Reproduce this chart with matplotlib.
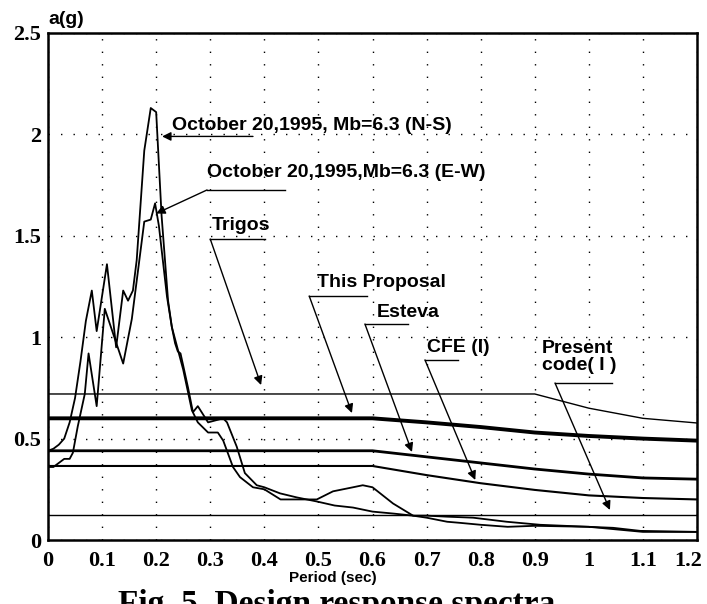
import matplotlib
matplotlib.use("Agg")
import matplotlib.pyplot as plt
from matplotlib.transforms import ScaledTranslation

# recorded spectra, October 20 1995, Mb=6.3
ns_period = [0, 0.01, 0.02, 0.03, 0.04, 0.05, 0.06, 0.07, 0.081, 0.09, 0.109, 0.126, 0.139,
             0.148, 0.157, 0.164, 0.178, 0.19, 0.20, 0.21, 0.222, 0.229, 0.235, 0.24, 0.245,
             0.25, 0.259, 0.268, 0.277, 0.296, 0.324, 0.331, 0.349, 0.364, 0.386, 0.40, 0.429,
             0.46, 0.497, 0.53, 0.564, 0.60, 0.64, 0.675, 0.70, 0.738, 0.786, 0.848, 0.91,
             1.0, 1.045, 1.095, 1.2]
ns_accel = [0.44, 0.45, 0.47, 0.50, 0.58, 0.70, 0.88, 1.08, 1.23, 1.03, 1.36, 0.95, 1.23,
            1.18, 1.23, 1.38, 1.92, 2.13, 2.11, 1.60, 1.18, 1.05, 0.97, 0.93, 0.92,
            0.86, 0.75, 0.63, 0.66, 0.58, 0.60, 0.58, 0.46, 0.33, 0.27, 0.26, 0.23,
            0.21, 0.19, 0.17, 0.16, 0.14, 0.13, 0.12, 0.12, 0.115, 0.11, 0.09, 0.075,
            0.065, 0.06, 0.045, 0.04]

ew_period = [0, 0.01, 0.02, 0.03, 0.04, 0.046, 0.055, 0.068, 0.075, 0.09, 0.105, 0.139, 0.155,
             0.178, 0.19, 0.198, 0.205, 0.22, 0.229, 0.25, 0.266, 0.277, 0.296, 0.314, 0.324,
             0.342, 0.355, 0.379, 0.40, 0.43, 0.46, 0.497, 0.527, 0.564, 0.582, 0.60, 0.638,
             0.675, 0.70, 0.738, 0.76, 0.80, 0.85, 0.90, 1.0, 1.1, 1.2]
ew_accel = [0.36, 0.36, 0.38, 0.40, 0.40, 0.43, 0.56, 0.72, 0.92, 0.66, 1.14, 0.87, 1.09,
            1.57, 1.58, 1.66, 1.55, 1.20, 1.05, 0.84, 0.64, 0.58, 0.53, 0.53, 0.49,
            0.36, 0.31, 0.26, 0.25, 0.20, 0.20, 0.20, 0.24, 0.26, 0.27, 0.26, 0.18,
            0.12, 0.11, 0.09, 0.085, 0.075, 0.065, 0.07, 0.065, 0.04, 0.04]

# design spectra
trigos_period = [0, 0.9, 1.0, 1.1, 1.2]
trigos_accel = [0.72, 0.72, 0.65, 0.60, 0.577]

proposal_period = [0, 0.6, 0.7, 0.8, 0.9, 1.0, 1.1, 1.2]
proposal_accel = [0.60, 0.60, 0.58, 0.557, 0.53, 0.513, 0.50, 0.49]

esteva_period = [0, 0.6, 0.7, 0.8, 0.9, 1.0, 1.1, 1.2]
esteva_accel = [0.44, 0.44, 0.41, 0.38, 0.35, 0.325, 0.306, 0.30]

cfe_period = [0, 0.6, 0.7, 0.8, 0.9, 1.0, 1.1, 1.2]
cfe_accel = [0.365, 0.365, 0.32, 0.28, 0.247, 0.22, 0.207, 0.20]

code_period = [0, 1.2]
code_accel = [0.123, 0.123]

x_ticks = [0, 0.1, 0.2, 0.3, 0.4, 0.5, 0.6, 0.7, 0.8, 0.9, 1, 1.1, 1.2]
x_tick_labels = ["0", "0.1", "0.2", "0.3", "0.4", "0.5", "0.6", "0.7", "0.8", "0.9", "1", "1.1", "1.2"]
y_ticks = [0, 0.5, 1, 1.5, 2, 2.5]
y_tick_labels = ["0", "0.5", "1", "1.5", "2", "2.5"]

fig = plt.figure(figsize=(7.07, 6.04), dpi=100)
ax = fig.add_axes([48 / 707, 64 / 604, 649 / 707, 507 / 604])

ax.plot(ns_period, ns_accel, color="black", lw=1.3)
ax.plot(ew_period, ew_accel, color="black", lw=1.3)
ax.plot(trigos_period, trigos_accel, color="black", lw=1.0)
ax.plot(proposal_period, proposal_accel, color="black", lw=2.8)
ax.plot(esteva_period, esteva_accel, color="black", lw=2.0)
ax.plot(cfe_period, cfe_accel, color="black", lw=1.5)
ax.plot(code_period, code_accel, color="black", lw=1.0)

ax.set_xlim(0, 1.2)
ax.set_ylim(0, 2.5)
ax.set_xticks(x_ticks)
ax.set_xticklabels(x_tick_labels)
ax.set_yticks(y_ticks)
ax.set_yticklabels(y_tick_labels)
ax.tick_params(length=0, labelsize=16)
ax.tick_params(axis="x", pad=8)
ax.tick_params(axis="y", pad=5)
for lab in ax.get_xticklabels() + ax.get_yticklabels():
    lab.set_family("Liberation Serif")
    lab.set_fontweight("bold")
# last x label sits a bit left so it stays inside the figure
last = ax.get_xticklabels()[-1]
last.set_transform(last.get_transform() + ScaledTranslation(-9 / 100, 0, fig.dpi_scale_trans))
ax.grid(True, color="black", lw=1.0, linestyle=(0, (1, 8)))
for side in ax.spines.values():
    side.set_linewidth(1.8)

sans = "Liberation Sans"
fig.text(48 / 707, 1 - 20 / 604, "a(g)", family=sans, weight="bold", fontsize=14, va="center")

# caption of the source page, mostly cut off by the bottom edge
fig.text(118 / 707, 1 - 589 / 604, "Fig. 5. Design response spectra", family="Liberation Serif",
         weight="bold", fontsize=24, va="top", zorder=1)
fig.text(333 / 707, 1 - 578 / 604, "Period (sec)", family=sans, weight="bold", fontsize=11,
         ha="center", va="center", zorder=2,
         bbox=dict(facecolor="white", edgecolor="none", pad=4))

# labels with underline and leader arrow: text pos, underline end, underline start, arrow tip (data units)
notes = [
    ("October 20,1995, Mb=6.3 (N-S)", (0.229, 2.046), (0.379, 1.99), (0.379, 1.99), (0.211, 1.99)),
    ("October 20,1995,Mb=6.3 (E-W)", (0.294, 1.81), (0.438, 1.726), (0.294, 1.726), (0.200, 1.61)),
    ("Trigos", (0.303, 1.553), (0.401, 1.484), (0.300, 1.484), (0.394, 0.764)),
    ("This Proposal", (0.497, 1.272), (0.590, 1.203), (0.483, 1.203), (0.562, 0.626)),
    ("Esteva", (0.608, 1.124), (0.666, 1.065), (0.586, 1.065), (0.673, 0.434)),
    ("CFE (I)", (0.701, 0.947), (0.758, 0.888), (0.697, 0.888), (0.790, 0.296)),
    ("Present\ncode( I )", (0.913, 0.902), (1.043, 0.774), (0.9375, 0.774), (1.039, 0.148)),
]
for label, txt, u_end, u_start, tip in notes:
    ax.text(txt[0], txt[1], label, family=sans, weight="bold", fontsize=14, va="center",
            linespacing=1.05)
    ax.plot([u_start[0], u_end[0]], [u_start[1], u_end[1]], color="black", lw=1.0)
    ax.annotate("", xy=tip, xytext=u_start,
                arrowprops=dict(arrowstyle="-|>", color="black", lw=1.0, mutation_scale=13,
                                shrinkA=0, shrinkB=0))

fig.savefig("out.png", dpi=100)
